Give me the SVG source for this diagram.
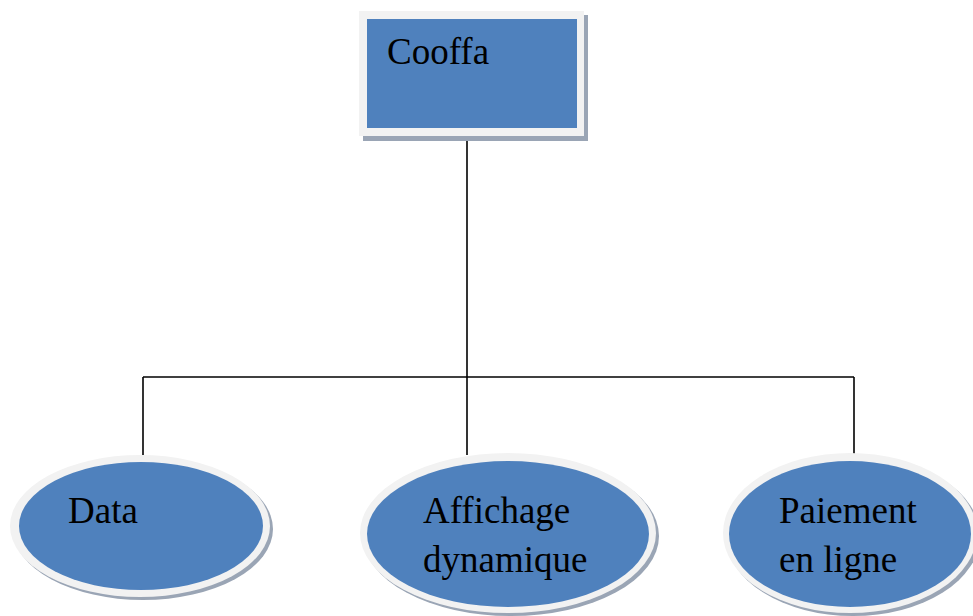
<svg xmlns="http://www.w3.org/2000/svg" width="973" height="616" viewBox="0 0 973 616">
  <style>
    .shadow { fill: #9aa5b5; }
    .rim { fill: #f2f2f2; }
    .body { fill: #4f81bd; }
    .label { font-family: "Liberation Serif", "Times New Roman", serif; font-size: 37px; fill: #000; }
    .wire { fill: none; stroke: #000; stroke-width: 1.6; }
  </style>
  <rect width="973" height="616" fill="#fff"/>

  <!-- connectors -->
  <g id="connectors">
    <line class="wire" x1="467" y1="140" x2="467" y2="455"/>
    <line class="wire" x1="143" y1="377" x2="854" y2="377"/>
    <line class="wire" x1="143" y1="377" x2="143" y2="455"/>
    <line class="wire" x1="854" y1="377" x2="854" y2="455"/>
  </g>

  <!-- root node -->
  <g id="node-cooffa">
    <rect class="shadow" x="363" y="15" width="225" height="126"/>
    <rect class="rim" x="359" y="11" width="225" height="125"/>
    <rect class="body" x="367" y="19" width="210" height="109"/>
    <text class="label" x="387" y="64">Cooffa</text>
  </g>

  <!-- child nodes -->
  <g id="node-data">
    <ellipse class="shadow" cx="143" cy="529" rx="130" ry="71"/>
    <ellipse class="rim" cx="140" cy="526" rx="130" ry="71"/>
    <ellipse class="body" cx="141" cy="526" rx="122" ry="64"/>
    <text class="label" x="68" y="523">Data</text>
  </g>

  <g id="node-affichage">
    <ellipse class="shadow" cx="511" cy="536" rx="148" ry="80"/>
    <ellipse class="rim" cx="508" cy="533" rx="148" ry="80"/>
    <ellipse class="body" cx="508" cy="534" rx="141" ry="73"/>
    <text class="label" x="423" y="523">Affichage</text>
    <text class="label" x="423" y="572">dynamique</text>
  </g>

  <g id="node-paiement">
    <ellipse class="shadow" cx="853" cy="536" rx="127" ry="80"/>
    <ellipse class="rim" cx="850" cy="533" rx="127" ry="80"/>
    <ellipse class="body" cx="850" cy="534" rx="121" ry="73"/>
    <text class="label" x="779" y="523">Paiement</text>
    <text class="label" x="779" y="572">en ligne</text>
  </g>
</svg>
